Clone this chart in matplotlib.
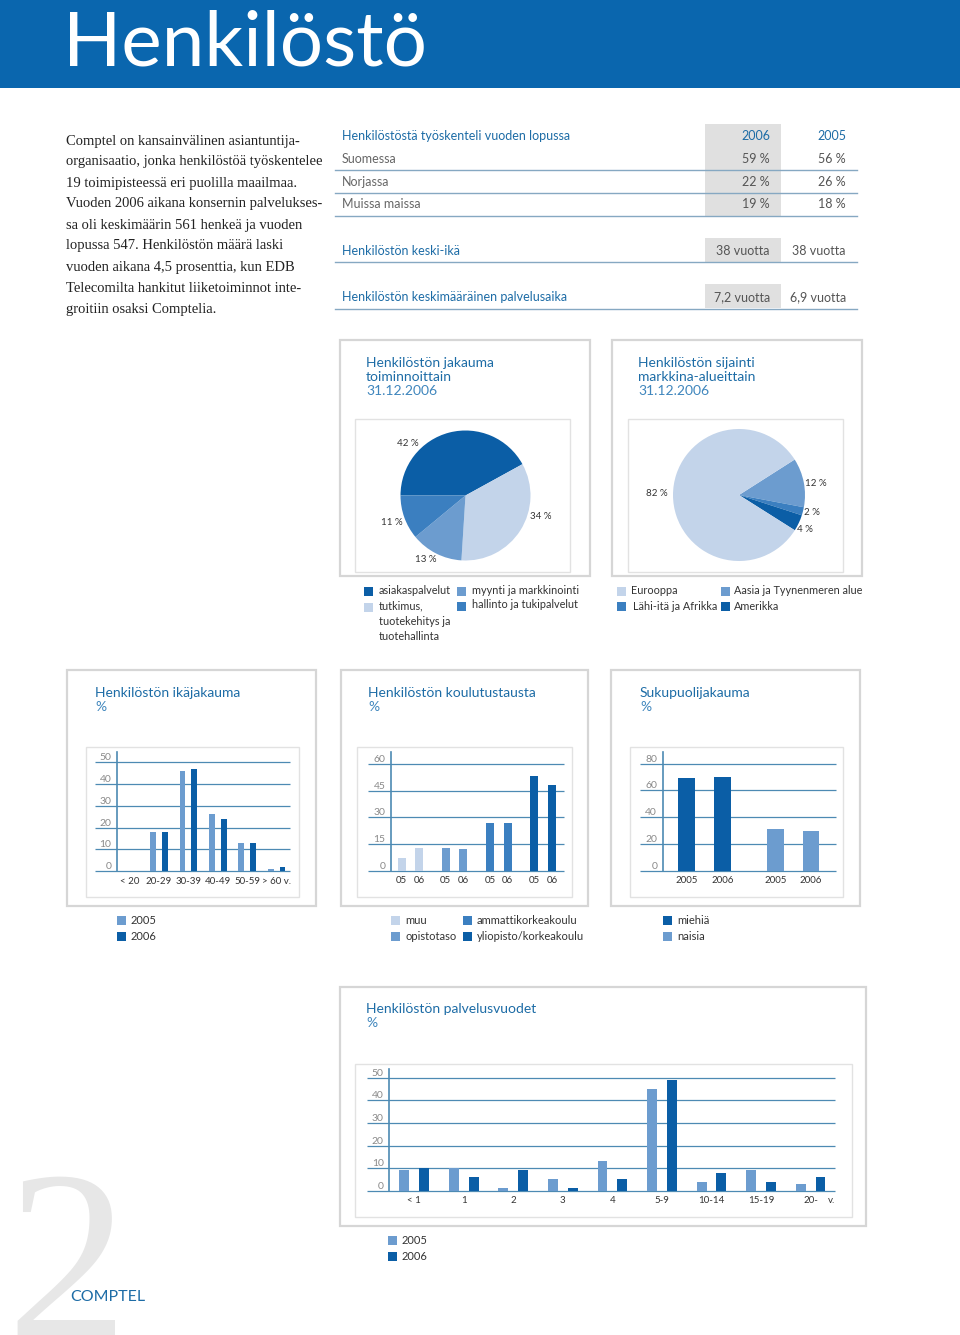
import numpy as np
import matplotlib.pyplot as plt
from matplotlib.patches import Rectangle

plt.rcParams['font.family'] = ['Lato', 'DejaVu Sans']

# --- data ---------------------------------------------------------------
intro_lines = [
    "Comptel on kansainvälinen asiantuntija-",
    "organisaatio, jonka henkilöstöä työskentelee",
    "19 toimipisteessä eri puolilla maailmaa.",
    "Vuoden 2006 aikana konsernin palvelukses-",
    "sa oli keskimäärin 561 henkeä ja vuoden",
    "lopussa 547. Henkilöstön määrä laski",
    "vuoden aikana 4,5 prosenttia, kun EDB",
    "Telecomilta hankitut liiketoiminnot inte-",
    "groitiin osaksi Comptelia.",
]

table_years = ["2006", "2005"]
country_rows = ["Suomessa", "Norjassa", "Muissa maissa"]
country_2006 = [59, 22, 19]
country_2005 = [56, 26, 18]
avg_age = [38, 38]              # 2006, 2005
avg_service = [7.2, 6.9]        # 2006, 2005

func_labels = ["asiakaspalvelut", "tutkimus,\ntuotekehitys ja\ntuotehallinta",
               "myynti ja markkinointi", "hallinto ja tukipalvelut"]
func_share = [42, 34, 13, 11]

market_labels = ["Aasia ja Tyynenmeren alue", "Lähi-itä ja Afrikka", "Amerikka", "Eurooppa"]
market_share = [12, 2, 4, 82]

age_groups = ["< 20", "20-29", "30-39", "40-49", "50-59", "> 60 v."]
age_2005 = [0, 18, 46, 26, 13, 1]
age_2006 = [0, 18, 47, 24, 13, 2]

edu_groups = ["muu", "opistotaso", "ammattikorkeakoulu", "yliopisto/korkeakoulu"]
edu_2005 = [7, 13, 27, 53]
edu_2006 = [13, 12, 27, 48]

gender_groups = ["miehiä", "naisia"]
gender_2005 = [69, 31]
gender_2006 = [70, 30]

service_groups = ["< 1", "1", "2", "3", "4", "5-9", "10-14", "15-19", "20-"]
service_2005 = [9, 10, 1, 5, 13, 45, 4, 9, 3]
service_2006 = [10, 6, 9, 1, 5, 49, 8, 4, 6]

# --- style --------------------------------------------------------------
HEAD = '#0a66ae'
DARK = '#0b5ea6'
MED = '#3b7fc0'
MEDL = '#6c9ccf'
LIGHT = '#c3d4ea'
TITLE = '#1d6ca6'
GRID = '#4d8ab3'
RULE = '#86a8c2'
BOX = '#d6d6d6'
INBOX = '#e2e2e2'
SHADE = '#e0e0e0'
TXT = '#333333'

W, H = 960, 1335
fig = plt.figure(figsize=(9.6, 13.35), dpi=100)
bg = fig.add_axes([0, 0, 1, 1])
bg.set_xlim(0, W)
bg.set_ylim(H, 0)
bg.axis('off')


def px_axes(x0, y0, x1, y1):
    ax = fig.add_axes([x0 / W, 1 - y1 / H, (x1 - x0) / W, (y1 - y0) / H])
    ax.patch.set_alpha(0)
    return ax


def box(x0, y0, x1, y1, color, lw):
    bg.add_patch(Rectangle((x0, y0), x1 - x0, y1 - y0, fill=False, ec=color, lw=lw))


def square(x, y, color):
    bg.add_patch(Rectangle((x, y - 4), 8.5, 8.5, color=color, lw=0))


def pct(v):
    return f"{v} %"


# big page number in background
bg.text(6, 1338, "2", family='Liberation Serif', fontsize=175, color='#e7e7e7',
        va='baseline', zorder=0)
bg.text(70, 1297, "COMPTEL", fontsize=11.5, color=TITLE, va='center', zorder=2)

# header band
bg.add_patch(Rectangle((0, 0), W, 88, color=HEAD, lw=0))
bg.text(63, 65, "Henkilöstö", fontsize=55, color='white', va='baseline')

# intro paragraph
for i, line in enumerate(intro_lines):
    bg.text(66, 141 + 21 * i, line, family='Liberation Serif', fontsize=10.5,
            color='#222222', va='center')

# table
bg.add_patch(Rectangle((705, 124), 76, 92, color=SHADE, lw=0))
bg.add_patch(Rectangle((705, 238), 76, 24, color=SHADE, lw=0))
bg.add_patch(Rectangle((705, 284), 76, 24, color=SHADE, lw=0))
bg.text(342, 136, "Henkilöstöstä työskenteli vuoden lopussa", fontsize=9, color=TITLE, va='center')
bg.text(770, 136, table_years[0], fontsize=9, color=TITLE, ha='right', va='center')
bg.text(846, 136, table_years[1], fontsize=9, color=TITLE, ha='right', va='center')
for i, name in enumerate(country_rows):
    y = 159 + 22.7 * i
    bg.text(342, y, name, fontsize=9, color='#666666', va='center')
    bg.text(770, y, pct(country_2006[i]), fontsize=9, color='#555555', ha='right', va='center')
    bg.text(846, y, pct(country_2005[i]), fontsize=9, color='#555555', ha='right', va='center')
    bg.plot([335, 857], [170 + 23 * i] * 2, color=RULE, lw=1)
bg.text(342, 251, "Henkilöstön keski-ikä", fontsize=9, color=TITLE, va='center')
bg.text(770, 251, f"{avg_age[0]} vuotta", fontsize=9, color='#555555', ha='right', va='center')
bg.text(846, 251, f"{avg_age[1]} vuotta", fontsize=9, color='#555555', ha='right', va='center')
bg.plot([335, 857], [262, 262], color=RULE, lw=1)
bg.text(342, 297, "Henkilöstön keskimääräinen palvelusaika", fontsize=9, color=TITLE, va='center')
bg.text(770, 297, f"{avg_service[0]:.1f} vuotta".replace('.', ','), fontsize=9,
        color='#555555', ha='right', va='center')
bg.text(846, 297, f"{avg_service[1]:.1f} vuotta".replace('.', ','), fontsize=9,
        color='#555555', ha='right', va='center')
bg.plot([335, 857], [308.5, 308.5], color=RULE, lw=1)


def panel_title(x, y, lines, light_last=True):
    for i, t in enumerate(lines):
        light = light_last and i == len(lines) - 1
        bg.text(x, y + 14 * i, t, fontsize=10, va='center',
                color='#3f86bd' if light else TITLE)


# --- pies ---------------------------------------------------------------
box(340, 340, 590, 576, BOX, 1.6)
box(355, 419, 570, 572, INBOX, 1.0)
panel_title(366, 363, ["Henkilöstön jakauma", "toiminnoittain", "31.12.2006"])
r = 65
ax = px_axes(465.5 - 1.6 * r, 495.5 - 1.6 * r, 465.5 + 1.6 * r, 495.5 + 1.6 * r)
ax.pie(func_share, colors=[DARK, LIGHT, MEDL, MED], startangle=180, counterclock=False,
       wedgeprops=dict(lw=0), radius=1)
ax.set_xlim(-1.6, 1.6)
ax.set_ylim(-1.6, 1.6)
for v, (lx, ly) in zip(func_share, [(-0.89, 0.80), (1.15, -0.33), (-0.61, -0.99), (-1.14, -0.41)]):
    ax.text(lx, ly, pct(v), fontsize=7, color=TXT, ha='center', va='center')

box(612, 340, 862, 576, BOX, 1.6)
box(628, 419, 843, 572, INBOX, 1.0)
panel_title(638, 363, ["Henkilöstön sijainti", "markkina-alueittain", "31.12.2006"])
r = 66
ax = px_axes(739 - 1.6 * r, 495 - 1.6 * r, 739 + 1.6 * r, 495 + 1.6 * r)
ax.pie(market_share, colors=[MEDL, MED, DARK, LIGHT], startangle=32.5, counterclock=False,
       wedgeprops=dict(lw=0), radius=1)
ax.set_xlim(-1.6, 1.6)
ax.set_ylim(-1.6, 1.6)
for v, (lx, ly) in zip(market_share, [(1.17, 0.18), (1.11, -0.27), (1.0, -0.52), (-1.24, 0.02)]):
    ax.text(lx, ly, pct(v), fontsize=7, color=TXT, ha='center', va='center')

# pie legends
for (x, y), lab, c in zip([(364, 591), (364, 607), (457, 591), (457, 606)], func_labels,
                          [DARK, LIGHT, MEDL, MED]):
    square(x, y, c)
    bg.text(x + 15, y - 6.5, lab, fontsize=7.8, color=TXT, va='top', linespacing=1.5)
for (x, y, tx), lab, c in zip([(721, 591, 734), (617, 606, 633), (721, 606, 734), (617, 591, 631)],
                              market_labels, [MEDL, MED, DARK, LIGHT]):
    square(x, y, c)
    bg.text(tx, y, lab, fontsize=7.8, color=TXT, va='center')


# --- bar charts ---------------------------------------------------------
def bar_panel(axis_x, right_x, zero_y, top_y, ppu, c0, sp, gl_left, ticks):
    a = px_axes(axis_x, top_y, right_x, zero_y)
    a.set_ylim(0, (zero_y - top_y) / ppu)
    xl = ((axis_x - c0) / sp, (right_x - c0) / sp)
    a.set_xlim(*xl)
    for s in ['top', 'right', 'bottom']:
        a.spines[s].set_visible(False)
    a.spines['left'].set_color(GRID)
    a.spines['left'].set_linewidth(1.2)
    a.hlines(ticks, (gl_left - c0) / sp, xl[1], color=GRID, lw=0.9, clip_on=False, zorder=0)
    a.set_yticks(ticks, [str(t) for t in ticks])
    a.tick_params(axis='y', length=0, pad=4, labelsize=7.5, labelcolor='#8a8a8a')
    for lab in a.get_yticklabels():
        lab.set_va('bottom')
    a.tick_params(axis='x', length=0, pad=4, labelsize=7, labelcolor=TXT)
    return a


# age distribution
box(67, 670, 316, 906, BOX, 1.6)
box(86, 747, 299, 897, INBOX, 1.0)
panel_title(95, 693, ["Henkilöstön ikäjakauma", "%"])
ax = bar_panel(117, 290, 871, 752, 2.174, 129.6, 29.4, 95, [0, 10, 20, 30, 40, 50])
idx = np.arange(len(age_groups))
ax.bar(idx - 0.2, age_2005, width=0.2, color=MEDL)
ax.bar(idx + 0.2, age_2006, width=0.2, color=DARK)
ax.set_xticks(idx, age_groups)
square(117, 920, MEDL)
bg.text(131, 920, "2005", fontsize=8, color=TXT, va='center')
square(117, 936, DARK)
bg.text(131, 936, "2006", fontsize=8, color=TXT, va='center')

# education
box(341, 670, 588, 906, BOX, 1.6)
box(357, 747, 572, 897, INBOX, 1.0)
panel_title(368, 693, ["Henkilöstön koulutustausta", "%"])
ax = bar_panel(391, 564, 870.7, 752, 1.778, 410.4, 44.2, 368, [0, 15, 30, 45, 60])
idx = np.arange(len(edu_groups))
edu_colors = [LIGHT, MEDL, MED, DARK]
ax.bar(idx - 0.2, edu_2005, width=0.18, color=edu_colors)
ax.bar(idx + 0.2, edu_2006, width=0.18, color=edu_colors)
ax.set_xticks(np.ravel(np.column_stack([idx - 0.2, idx + 0.2])), ["05", "06"] * len(idx))
for (x, y), lab, c in zip([(391, 920), (391, 936), (463, 920), (463, 936)], edu_groups, edu_colors):
    square(x, y, c)
    bg.text(x + 14, y, lab, fontsize=8, color=TXT, va='center')

# gender
box(611, 670, 860, 906, BOX, 1.6)
box(630, 747, 843, 897, INBOX, 1.0)
panel_title(640, 693, ["Sukupuolijakauma", "%"])
ax = bar_panel(662.7, 836, 870.7, 752, 1.3375, 704.5, 88.7, 640, [0, 20, 40, 60, 80])
idx = np.arange(len(gender_groups))
gender_colors = [DARK, MEDL]
ax.bar(idx - 0.2, gender_2005, width=0.19, color=gender_colors)
ax.bar(idx + 0.2, gender_2006, width=0.19, color=gender_colors)
ax.set_xticks(np.ravel(np.column_stack([idx - 0.2, idx + 0.2])), ["2005", "2006"] * len(idx))
for (x, y), lab, c in zip([(663, 920), (663, 936)], gender_groups, gender_colors):
    square(x, y, c)
    bg.text(x + 14, y, lab, fontsize=8, color=TXT, va='center')

# years of service
box(340, 987, 866, 1226, BOX, 1.6)
box(355, 1064, 852, 1217, INBOX, 1.0)
panel_title(366, 1009, ["Henkilöstön palvelusvuodet", "%"])
ax = bar_panel(389.3, 835, 1190.7, 1069.3, 2.26, 414.2, 49.55, 366.7, [0, 10, 20, 30, 40, 50])
idx = np.arange(len(service_groups))
ax.bar(idx - 0.2, service_2005, width=0.2, color=MEDL)
ax.bar(idx + 0.2, service_2006, width=0.2, color=DARK)
ax.set_xticks(idx, service_groups)
ax.annotate("v.", (1.0, 0), xycoords=('axes fraction', 'data'), xytext=(0, -4),
            textcoords='offset points', ha='right', va='top', fontsize=7, color=TXT)
square(388, 1240, MEDL)
bg.text(402, 1240, "2005", fontsize=8, color=TXT, va='center')
square(388, 1256, DARK)
bg.text(402, 1256, "2006", fontsize=8, color=TXT, va='center')

fig.savefig('out.png', dpi=100)
